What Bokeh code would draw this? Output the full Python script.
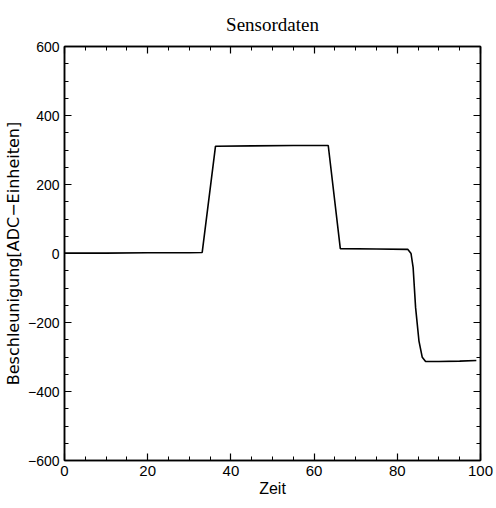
from bokeh.plotting import figure
from bokeh.models import LinearAxis, FixedTicker, Range1d
from bokeh.embed import file_html
from bokeh.resources import INLINE

# data
zeit = [0, 10, 20, 30, 33.1, 36.3, 45, 55, 63.4, 66.3, 75, 82.5, 83.3, 83.8, 84.4, 85.2, 86.0, 86.8, 90, 95, 99]
beschl = [1, 1, 2, 2, 3, 311, 312, 313, 313, 14, 13, 12, 0, -40, -157, -253, -301, -313, -313, -312, -310]
x_ticks = [0, 20, 40, 60, 80, 100]
y_ticks = [-600, -400, -200, 0, 200, 400, 600]
y_tick_labels = ["\u2212600", "\u2212400", "\u2212200", "0", "200", "400", "600"]

FONT = "Liberation Sans"

p = figure(output_backend="svg", toolbar_location=None,
           width=496, height=508,
           min_border_left=64, min_border_right=16, min_border_top=45, min_border_bottom=48,
           x_range=Range1d(0, 100), y_range=Range1d(-600, 600),
           title="Sensordaten", background_fill_color="white", border_fill_color="white")
p.title.align = "center"
p.title.text_font = "Liberation Serif"
p.title.text_font_size = "19px"
p.title.text_font_style = "normal"
p.title.text_color = "black"
p.title.offset = 0
p.title.standoff = 23

p.grid.visible = False
p.outline_line_color = "black"
p.outline_line_width = 1.5

p.line(zeit, beschl, line_color="black", line_width=1.6)

def style(ax, labels=True):
    ax.axis_line_color = "black"
    ax.axis_line_width = 1.5
    ax.major_tick_in = 7
    ax.major_tick_out = 0
    ax.minor_tick_in = 4
    ax.minor_tick_out = 0
    ax.major_tick_line_color = "black"
    ax.minor_tick_line_color = "black"
    ax.major_tick_line_width = 1.2
    ax.minor_tick_line_width = 1
    ax.major_label_text_font = FONT
    ax.major_label_text_font_size = "15px"
    ax.major_label_text_color = "black" if labels else None
    ax.axis_label_text_font = FONT
    ax.axis_label_text_font_size = "16px"
    ax.axis_label_text_font_style = "normal"
    ax.axis_label_text_color = "black"

p.xaxis.ticker = FixedTicker(ticks=x_ticks, minor_ticks=list(range(0, 101, 5)))
p.yaxis.ticker = FixedTicker(ticks=y_ticks, minor_ticks=list(range(-600, 601, 50)))
for ax in p.xaxis + p.yaxis:
    style(ax)
p.xaxis.axis_label = "Zeit"
p.yaxis.axis_label = "Beschleunigung[ADC\u2212Einheiten]"
p.yaxis.axis_label_text_font = "DejaVu Sans"
p.yaxis.axis_label_text_font_size = "16px"
p.yaxis.major_label_text_font_size = "14px"
p.xaxis.major_label_standoff = 5
p.xaxis.axis_label_standoff = 1
p.yaxis.major_label_standoff = 5
p.yaxis.axis_label_standoff = 2
p.yaxis.major_label_overrides = {t: l for t, l in zip(y_ticks, y_tick_labels)}

top = LinearAxis(ticker=FixedTicker(ticks=x_ticks, minor_ticks=list(range(0, 101, 5))))
style(top, labels=False)
top.major_label_text_font_size = "0px"
top.major_label_standoff = 0
right = LinearAxis(ticker=FixedTicker(ticks=y_ticks, minor_ticks=list(range(-600, 601, 50))))
style(right, labels=False)
right.major_label_text_font_size = "0px"
right.major_label_standoff = 0
p.add_layout(top, "above")
p.add_layout(right, "right")

open("out.html", "w").write(file_html(p, INLINE))
